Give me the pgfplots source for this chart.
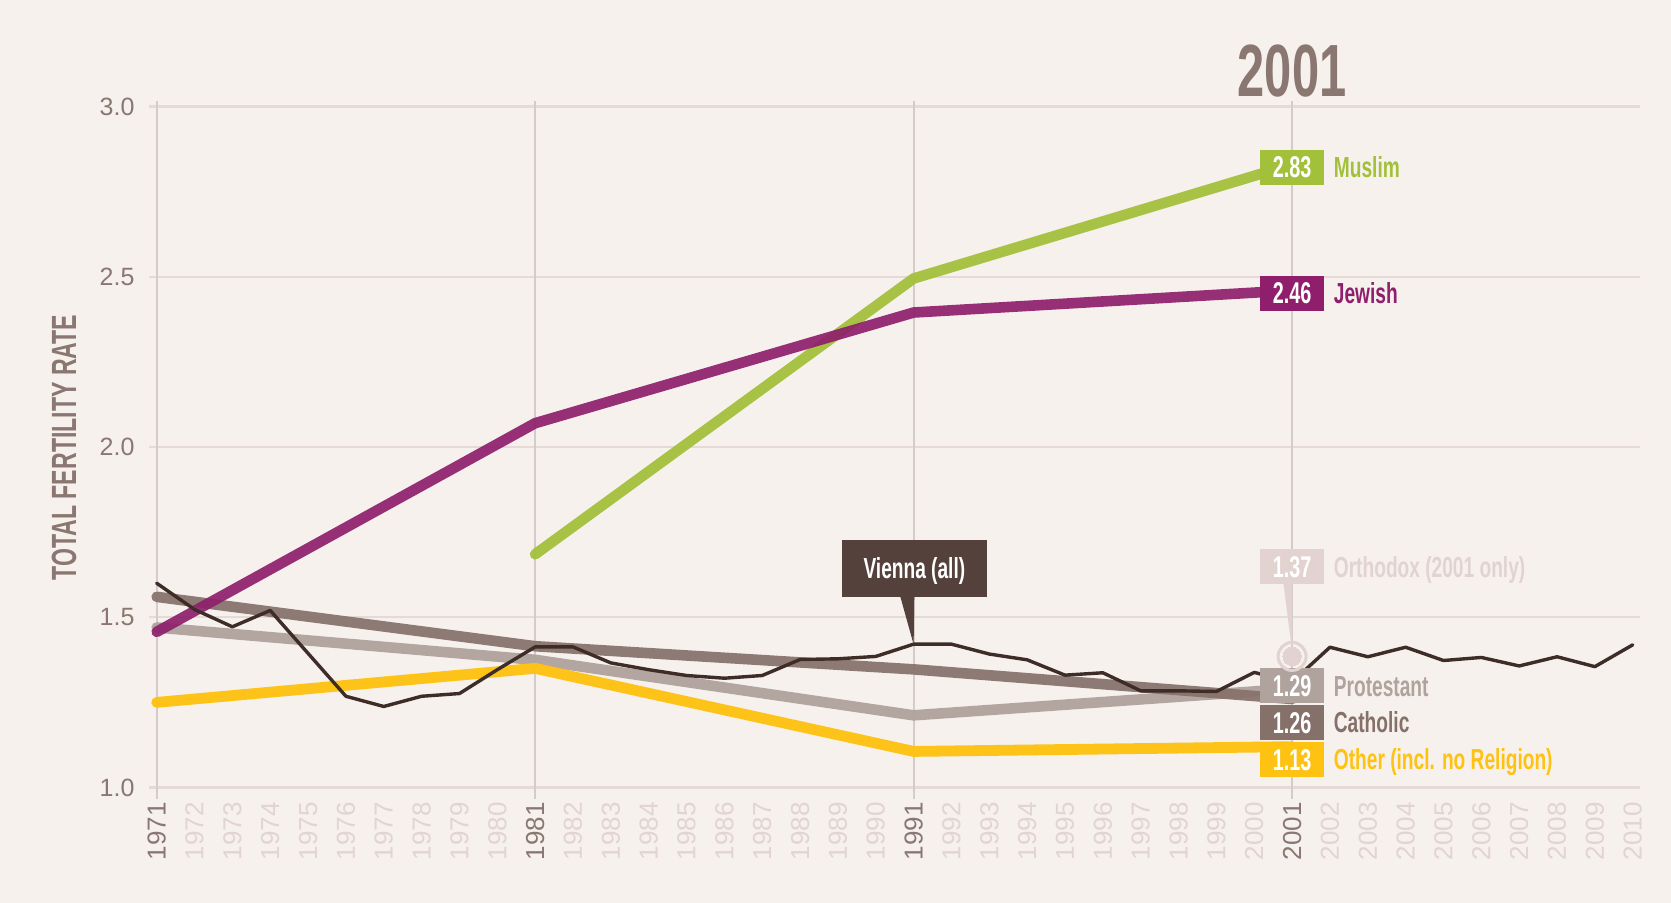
\documentclass[border=0pt]{standalone}
\usepackage{pgfplots}
\pgfplotsset{compat=1.18}
\usepackage{fontspec}
\setmainfont{Liberation Sans}
\newfontfamily\cond{Liberation Sans}[FakeStretch=0.66]
\definecolor{bg}{RGB}{246,241,237}
\definecolor{gridh}{RGB}{230,218,216}
\definecolor{gridv}{RGB}{212,204,201}
\definecolor{tickdark}{RGB}{139,119,113}
\definecolor{ticklight}{RGB}{225,212,210}
\definecolor{muslim}{RGB}{163,192,59}
\definecolor{jewish}{RGB}{143,31,108}
\definecolor{catholic}{RGB}{134,112,106}
\definecolor{protestant}{RGB}{176,163,157}
\definecolor{other}{RGB}{254,194,18}
\definecolor{vienna}{RGB}{62,44,39}
\definecolor{viennabox}{RGB}{84,65,59}
\definecolor{ortho}{RGB}{226,211,209}
\newcommand\rlabel[4]{%
  \node[fill=#3, minimum width=32pt, minimum height=17.5pt, inner sep=0pt] at (axis cs:2001,#1) {};
  \node[text=white, font=\cond\bfseries\fontsize{15}{16}\selectfont, anchor=base, yshift=-5.4pt, inner sep=0pt] at (axis cs:2001,#1) {#2};
  \node[text=#3, font=\cond\bfseries\fontsize{14.5}{16}\selectfont, anchor=base west, xshift=20.7pt, yshift=-5.2pt, inner sep=0pt] at (axis cs:2001,#1) {#4};
}
\begin{document}
\begin{tikzpicture}
\fill[bg] (0,0) rectangle (835.5pt,451.5pt);
\begin{axis}[
  at={(74.55pt,51.95pt)}, anchor=south west,
  scale only axis, width=745.6pt, height=349pt,
  xmin=1970.8, xmax=2010.2, ymin=0.966, ymax=3.016,
  clip=false,
  axis line style={draw=none},
  major tick length=0pt,
  ytick={1,1.5,2,2.5,3},
  yticklabel style={/pgf/number format/fixed, /pgf/number format/fixed zerofill,
    /pgf/number format/precision=1, /pgf/number format/assume math mode=true,
    font=\fontsize{12.5}{14}\selectfont, text=tickdark, xshift=-3.8pt},
  ymajorgrids, y grid style={color=gridh, line width=1.1pt},
  xtick={1972,1973,1974,1975,1976,1977,1978,1979,1980,1982,1983,1984,1985,1986,1987,1988,1989,1990,1992,1993,1994,1995,1996,1997,1998,1999,2000,2002,2003,2004,2005,2006,2007,2008,2009,2010},
  xticklabel style={rotate=90, anchor=east, inner sep=1.5pt,
    /pgf/number format/1000 sep={}, /pgf/number format/assume math mode=true,
    font=\fontsize{13}{14}\selectfont, text=ticklight},
  extra x ticks={1971,1981,1991,2001},
  extra x tick labels={\textcolor{tickdark}{1971},\textcolor{tickdark}{1981},\textcolor{tickdark}{1991},\textcolor{tickdark}{2001}},
  extra x tick style={grid=major, major grid style={color=gridv, line width=1pt}},
]
\addplot[protestant, line width=5.3pt, line cap=round, line join=round, opacity=0.95]
  coordinates {(1971,1.47)(1981,1.375)(1991,1.212)(2001,1.29)};
\addplot[catholic, line width=5.3pt, line cap=round, line join=round, opacity=0.92]
  coordinates {(1971,1.56)(1981,1.415)(1991,1.347)(2001,1.26)};
\addplot[muslim, line width=5.3pt, line cap=round, line join=round, opacity=0.95]
  coordinates {(1981,1.685)(1991,2.495)(2001,2.83)};
\addplot[jewish, line width=5.3pt, line cap=round, line join=round, opacity=0.92]
  coordinates {(1971,1.457)(1981,2.07)(1991,2.395)(2001,2.46)};
\addplot[other, line width=5.4pt, line cap=round, line join=round, opacity=0.97]
  coordinates {(1971,1.25)(1981,1.35)(1991,1.106)(2001,1.12)};
\addplot[vienna, line width=1.7pt, line join=round, line cap=round] coordinates {
 (1971,1.600)(1972,1.523)(1973,1.472)(1974,1.520)(1975,1.394)(1976,1.268)(1977,1.238)
 (1978,1.268)(1979,1.276)(1980,1.346)(1981,1.413)(1982,1.413)(1983,1.366)(1984,1.346)
 (1985,1.329)(1986,1.321)(1987,1.329)(1988,1.376)(1989,1.378)(1990,1.385)(1991,1.421)
 (1992,1.421)(1993,1.392)(1994,1.375)(1995,1.330)(1996,1.337)(1997,1.284)(1998,1.284)
 (1999,1.282)(2000,1.338)(2001,1.310)(2002,1.412)(2003,1.384)(2004,1.412)(2005,1.373)
 (2006,1.382)(2007,1.357)(2008,1.384)(2009,1.355)(2010,1.419)};
% Orthodox marker
\addplot[ortho, only marks, mark=o, mark size=7pt, mark options={draw=ortho, line width=1.5pt}]
  coordinates {(2001,1.385)};
\addplot[ortho, only marks, mark=*, mark size=4.6pt, mark options={fill=ortho, draw=ortho, line width=0pt}]
  coordinates {(2001,1.385)};
% pointers
\fill[ortho] (axis cs:2000.76,1.61) -- (axis cs:2001.0,1.61) -- (axis cs:2001.0,1.40) -- cycle;
\fill[viennabox] (axis cs:1990.6,1.58) -- (axis cs:1991.02,1.58) -- (axis cs:1991.0,1.42) -- cycle;
% Vienna box
\node[fill=viennabox, minimum width=72.5pt, minimum height=28.5pt, inner sep=0pt] at (axis cs:1991.02,1.643) {};
\node[text=white, font=\cond\bfseries\fontsize{14.5}{16}\selectfont, anchor=base, yshift=-5.2pt, inner sep=0pt] at (axis cs:1991.02,1.643) {Vienna (all)};
% Title
\node[font=\cond\bfseries\fontsize{37}{40}\selectfont, text=tickdark, anchor=base, yshift=2.5pt, inner sep=0pt] at (axis cs:2001,3.016) {2001};
% right labels
\rlabel{2.822}{2.83}{muslim}{Muslim}
\rlabel{2.452}{2.46}{jewish}{Jewish}
\rlabel{1.648}{1.37}{ortho}{Orthodox (2001 only)}
\rlabel{1.299}{1.29}{protestant}{Protestant}
\rlabel{1.191}{1.26}{catholic}{Catholic}
\rlabel{1.083}{1.13}{other}{Other (incl. no Religion)}
\end{axis}
\node[rotate=90, font=\cond\bfseries\fontsize{17.5}{20}\selectfont, text=tickdark, inner sep=0pt] at (32pt,227.7pt) {TOTAL FERTILITY RATE};
\pgfresetboundingbox
\useasboundingbox (0,0) rectangle (835.5pt,451.5pt);
\end{tikzpicture}
\end{document}
